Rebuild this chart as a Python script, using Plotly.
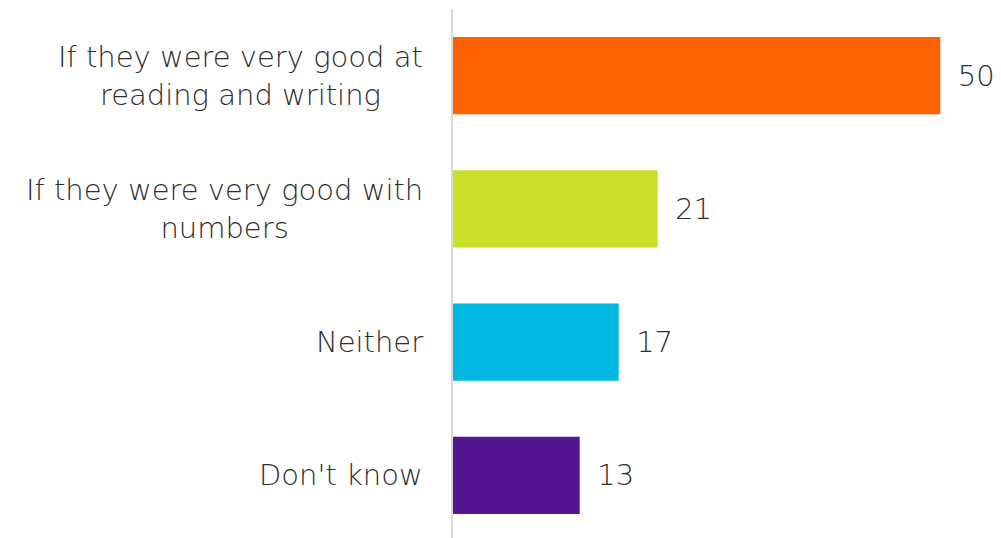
import plotly.graph_objects as go

categories = ["If they were very good at<br>reading and writing",
              "If they were very good with<br>numbers",
              "Neither",
              "Don't know"]
values = [50, 21, 17, 13]
colors = ["#FF6105", "#C9E02A", "#00B8E0", "#53148F"]

FONT = "DejaVu Sans"
TXT = "#2e2e2e"

fig = go.Figure(go.Bar(
    x=values, y=categories, orientation="h",
    marker=dict(color=colors, line=dict(width=0)),
    text=[f"\u2002{v}" for v in values], textposition="outside",
    textfont=dict(family=FONT, size=29, color=TXT, weight=200),
    cliponaxis=False,
))

annotations = [dict(x=0, y=c, xref="paper", yref="y", text=c, showarrow=False,
                    xanchor="right", yanchor="middle", align="center", xshift=-28,
                    font=dict(family=FONT, size=29, color=TXT, weight=200))
               for c in categories]

fig.update_layout(
    width=993, height=534,
    margin=dict(l=445, r=12, t=1, b=0),
    plot_bgcolor="white", paper_bgcolor="white",
    bargap=0.42,
    showlegend=False,
    annotations=annotations,
    xaxis=dict(range=[0, 55], visible=False, fixedrange=True),
    yaxis=dict(autorange="reversed", showticklabels=False, showline=True,
               linecolor="#d9d9d9", linewidth=2, showgrid=False, zeroline=False,
               ticks=""),
)
fig.write_html("out.html")
